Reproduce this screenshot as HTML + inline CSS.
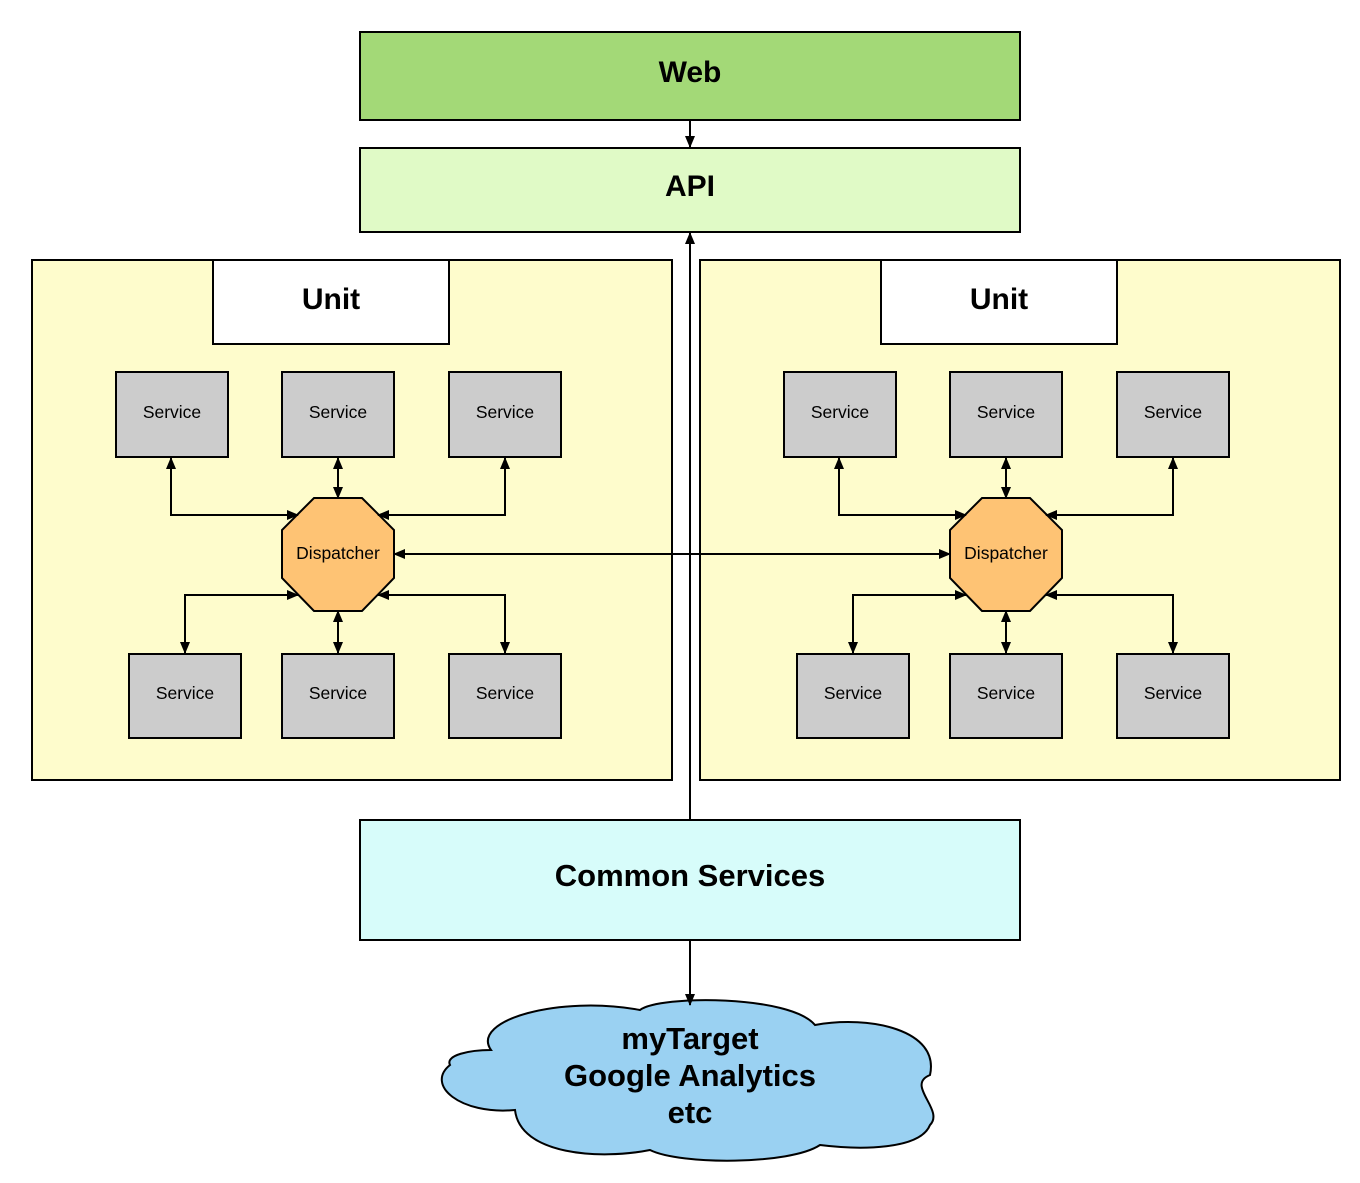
<!DOCTYPE html>
<html><head><meta charset="utf-8"><style>body{margin:0;background:#fff}svg{display:block}text{font-family:"Liberation Sans",sans-serif;text-anchor:middle}</style></head><body>
<svg width="1360" height="1183" viewBox="0 0 1360 1183" xmlns="http://www.w3.org/2000/svg">
<defs><marker id="a" markerWidth="12" markerHeight="10" refX="11" refY="5" orient="auto-start-reverse" markerUnits="userSpaceOnUse"><path d="M0,0 L12,5 L0,10 z" fill="#000"/></marker></defs>
<g stroke="#000" stroke-width="2">
<rect x="360" y="32" width="660" height="88" fill="#a3d977"/>
<rect x="360" y="148" width="660" height="84" fill="#e0fac6"/>
<rect x="32" y="260" width="640" height="520" fill="#fefccc"/>
<rect x="700" y="260" width="640" height="520" fill="#fefccc"/>
<rect x="213" y="260" width="236" height="84" fill="#fff"/>
<rect x="881" y="260" width="236" height="84" fill="#fff"/>
<rect x="360" y="820" width="660" height="120" fill="#d7fcfa"/>
<g fill="#cccccc">
<rect x="116" y="372" width="112" height="85"/><rect x="282" y="372" width="112" height="85"/><rect x="449" y="372" width="112" height="85"/>
<rect x="129" y="654" width="112" height="84"/><rect x="282" y="654" width="112" height="84"/><rect x="449" y="654" width="112" height="84"/>
<rect x="784" y="372" width="112" height="85"/><rect x="950" y="372" width="112" height="85"/><rect x="1117" y="372" width="112" height="85"/>
<rect x="797" y="654" width="112" height="84"/><rect x="950" y="654" width="112" height="84"/><rect x="1117" y="654" width="112" height="84"/>
</g>
<polygon points="314,498 362,498 394,530 394,578 362,611 314,611 282,578 282,530" fill="#fec374"/>
<polygon points="982,498 1030,498 1062,530 1062,578 1030,611 982,611 950,578 950,530" fill="#fec374"/>
<path d="M491,1050 C470,1020 560,995 640,1010 C660,995 790,995 815,1025 C870,1015 940,1030 930,1075 C905,1085 945,1110 930,1125 C920,1150 860,1150 820,1145 C790,1165 680,1165 650,1150 C600,1160 520,1155 515,1110 C460,1115 425,1085 450,1065 C445,1055 470,1050 491,1050 Z" fill="#9ad1f2"/>
</g>
<g stroke="#000" stroke-width="2" fill="none" marker-end="url(#a)" marker-start="url(#a)">
<path d="M690,120 L690,147" marker-start="none"/>
<path d="M690,820 L690,233" marker-start="none"/>
<path d="M690,940 L690,1005" marker-start="none"/>
<path d="M394,554 L950,554"/>
<path d="M171,458 L171,515 L298,515"/>
<path d="M338,458 L338,498"/>
<path d="M505,458 L505,515 L378,515"/>
<path d="M185,653 L185,595 L298,595"/>
<path d="M338,653 L338,611"/>
<path d="M505,653 L505,595 L378,595"/>
<path d="M839,458 L839,515 L966,515"/>
<path d="M1006,458 L1006,498"/>
<path d="M1173,458 L1173,515 L1046,515"/>
<path d="M853,653 L853,595 L966,595"/>
<path d="M1006,653 L1006,611"/>
<path d="M1173,653 L1173,595 L1046,595"/>
</g>
<g font-weight="bold" font-size="30">
<text x="690" y="82">Web</text>
<text x="690" y="196">API</text>
<text x="331" y="309">Unit</text>
<text x="999" y="309">Unit</text>
<text x="690" y="886" font-size="31">Common Services</text>
<text x="690" y="1049" font-size="31">myTarget</text>
<text x="690" y="1086" font-size="31">Google Analytics</text>
<text x="690" y="1123" font-size="31">etc</text>
</g>
<g font-size="17.5">
<text x="172" y="418">Service</text><text x="338" y="418">Service</text><text x="505" y="418">Service</text>
<text x="185" y="699">Service</text><text x="338" y="699">Service</text><text x="505" y="699">Service</text>
<text x="840" y="418">Service</text><text x="1006" y="418">Service</text><text x="1173" y="418">Service</text>
<text x="853" y="699">Service</text><text x="1006" y="699">Service</text><text x="1173" y="699">Service</text>
<text x="338" y="559">Dispatcher</text><text x="1006" y="559">Dispatcher</text>
</g>
</svg>
</body></html>
